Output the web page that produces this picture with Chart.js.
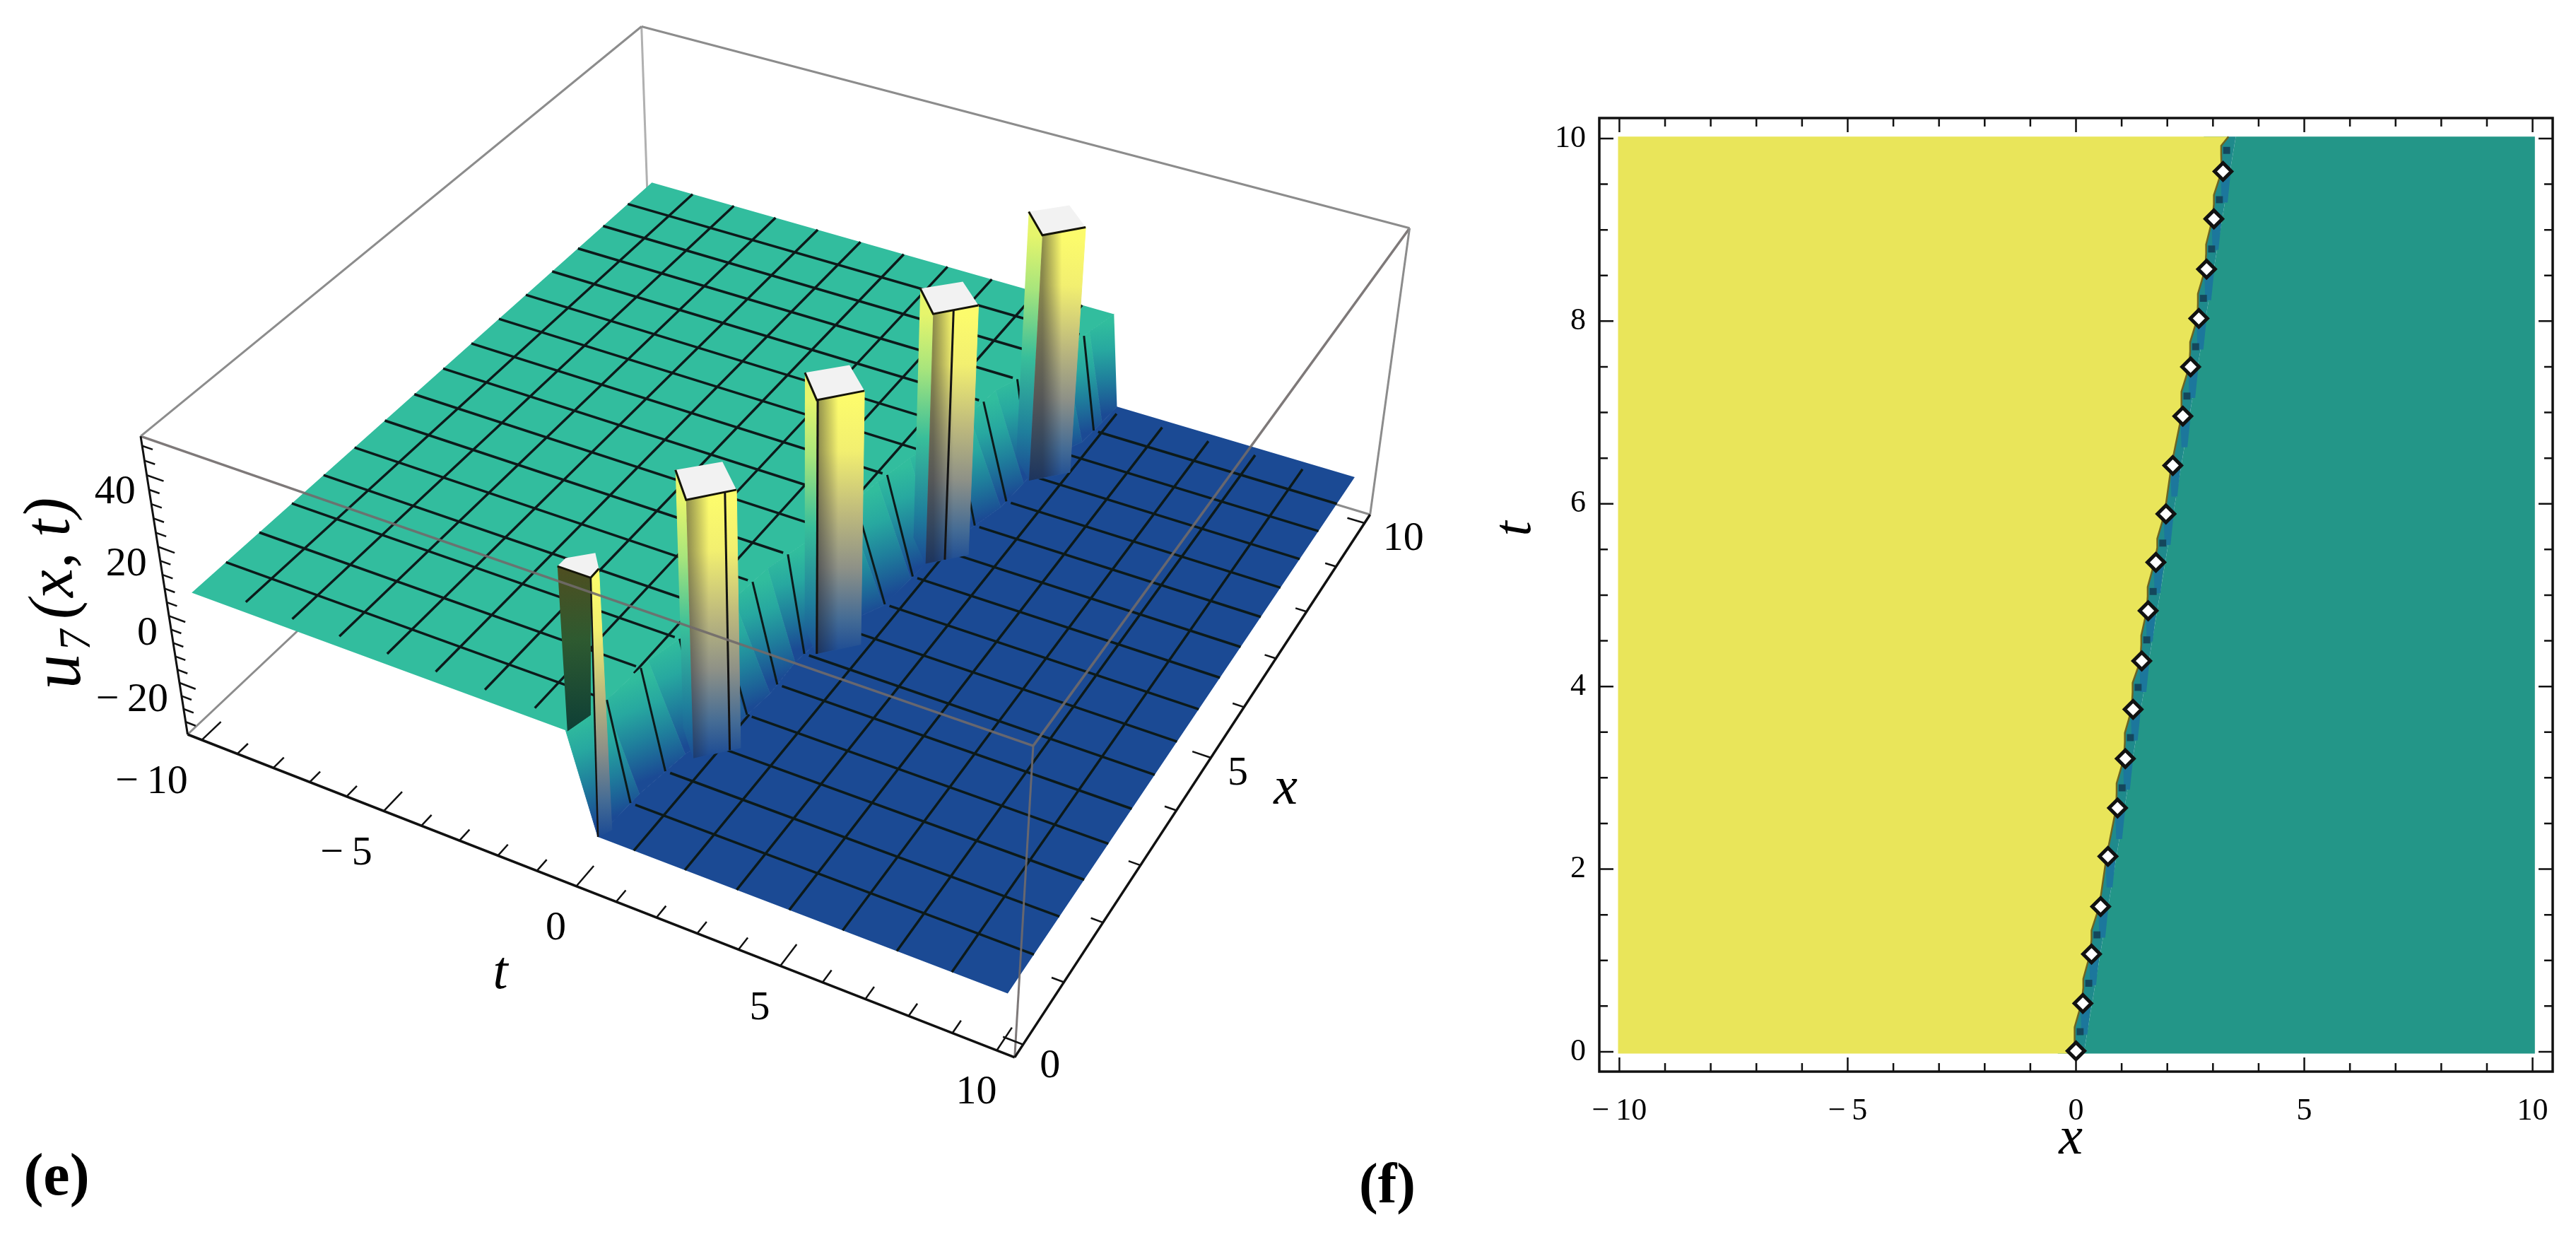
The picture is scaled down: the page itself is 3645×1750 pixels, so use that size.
<!DOCTYPE html>
<html lang="en">
<head>
  <meta charset="UTF-8" />
  <title>u7(x,t) surface and density plot</title>
  <script src="https://cdn.jsdelivr.net/npm/chart.js"></script>
  <style>
    body { margin: 0; background: #ffffff; overflow: hidden; }
    canvas { position: absolute; top: 0; }
    #surface { left: 0; }
    #density { left: 2100px; }
  </style>
</head>
<body>
  <canvas id="surface" width="2100" height="1750"></canvas>
  <canvas id="density" width="1545" height="1750"></canvas>

  <script>
    // ---- panel (e) values ----
    const xBox = [-0.2, 10.2];
    const tBox = [-10.4, 10.4];
    const uBox = [-35.9, 50.6];
    const tTicks = [-10, -5, 0, 5, 10];
    const xTicks3d = [0, 5, 10];
    const uTicks = [-20, 0, 20, 40];
    const meshT = [-8.75, -7.5, -6.25, -5, -3.75, -2.5, -1.25, 0, 1.25, 2.5, 3.75, 5, 6.25, 7.5, 8.75];
    const meshX = [0.625, 1.25, 1.875, 2.5, 3.125, 3.75, 4.375, 5, 5.625, 6.25, 6.875, 7.5, 8.125, 8.75, 9.375];
    const tealLevel = 5.5;
    const blueLevel = -22.7;
    // wall between the two levels, read along the jump
    const wallTopX = [10, 9.5, 8.95, 8.39, 7.78, 7.17, 6.56, 6.05, 5.45, 4.84, 4.13, 3.42, 2.76, 2.31, 1.39, 0.59, 0];
    const wallTopT = [3.37, 3.15, 2.98, 2.66, 2.22, 2.1, 1.93, 1.65, 1.42, 1.26, 1.08, 0.75, 0.62, 0.46, 0.06, -0.06, -0.3];
    const wallBotX = [10, 9.59, 9.08, 8.52, 7.94, 7.36, 6.78, 6.2, 5.58, 4.97, 4.31, 3.57, 2.95, 2.48, 1.6, 0.8, 0];
    const wallBotT = [3.63, 3.58, 3.49, 2.97, 2.94, 2.87, 2.59, 2.3, 2.21, 2.11, 1.46, 1.28, 1.31, 1.21, 0.66, 0.44, 0.36];
    // clipped peaks
    const peakX = [8.42, 6.32, 4.21, 1.98];
    const peakT = [3.01, 2.26, 1.56, 0.89];
    const peakMark = [null, 0.45, 0.02, 0.77];
    const firstPeakX = [0, 0.154, 0.367, 0.164, 0];
    const firstPeakT = [-0.26, -0.26, 0.18, 0.51, 0.52];

    // ---- panel (f) values ----
    const xTicks = [-10, -5, 0, 5, 10];
    const tTicks2d = [0, 2, 4, 6, 8, 10];
    const diamondX = [3.22, 3.02, 2.86, 2.69, 2.51, 2.34, 2.12, 1.97, 1.75, 1.58, 1.44, 1.25, 1.08, 0.91, 0.7, 0.54, 0.34, 0.15, 0];
    const diamondT = [9.64, 9.12, 8.57, 8.03, 7.5, 6.96, 6.42, 5.89, 5.36, 4.83, 4.28, 3.75, 3.21, 2.67, 2.14, 1.59, 1.07, 0.53, 0.01];
    const squareX = [3.3, 3.14, 2.97, 2.79, 2.62, 2.43, 1.9, 1.69, 1.55, 1.36, 1.19, 1.01, 0.46, 0.28, 0.09];
    const squareT = [9.87, 9.33, 8.79, 8.25, 7.72, 7.18, 5.57, 5.04, 4.51, 3.99, 3.44, 2.89, 1.28, 0.75, 0.22];
    const tealEdgeX = [0.17, 3.5];
    const tealEdgeT = [-0.02, 10.02];

    // camera for the box: origin corner, vanishing points and their weights
    const cam = {
      o: [265.5, 1039],
      x: [4102, -2575, 0.2061],
      t: [-8884, -2533, -0.1134],
      u: [1135, 6555, -0.07105]
    };

    function proj(x, t, u) {
      const a = (x - xBox[0]) / (xBox[1] - xBox[0]);
      const b = (t - tBox[0]) / (tBox[1] - tBox[0]);
      const c = (u - uBox[0]) / (uBox[1] - uBox[0]);
      const wa = a * cam.x[2], wb = b * cam.t[2], wc = c * cam.u[2];
      const w = 1 + wa + wb + wc;
      return {
        x: (cam.o[0] + wa * cam.x[0] + wb * cam.t[0] + wc * cam.u[0]) / w,
        y: (cam.o[1] + wa * cam.x[1] + wb * cam.t[1] + wc * cam.u[1]) / w
      };
    }

    function edgeAt(xs, ts, x) {
      for (let i = 0; i < xs.length - 1; i++) {
        if (x <= xs[i] && x >= xs[i + 1]) {
          return ts[i] + (ts[i + 1] - ts[i]) * (xs[i] - x) / (xs[i] - xs[i + 1]);
        }
      }
      return ts[ts.length - 1];
    }

    // last x (coming from x = 0) where the edge is still below t
    function crossAt(xs, ts, t) {
      for (let i = xs.length - 1; i > 0; i--) {
        if (t >= ts[i] && t < ts[i - 1]) {
          return xs[i] + (xs[i - 1] - xs[i]) * (t - ts[i]) / (ts[i - 1] - ts[i]);
        }
      }
      return t >= ts[0] ? 10 : 0;
    }

    const gradCtx = document.createElement('canvas').getContext('2d');
    function gradient(from, to, stops) {
      const g = gradCtx.createLinearGradient(from.x, from.y, to.x, to.y);
      stops.forEach(s => g.addColorStop(s[0], s[1]));
      return g;
    }

    const layers = [];
    function addLine(pts, color, width) {
      layers.push({ data: pts, showLine: true, fill: false, borderColor: color, borderWidth: width, pointRadius: 0 });
    }
    function addPoly(pts, color, seam) {
      layers.push({ data: pts, showLine: true, fill: 'shape', backgroundColor: color, borderColor: color, borderWidth: seam || 0, pointRadius: 0 });
    }

    const ink = '#0c1a1a';
    const boxGrey = '#8c8c8c';
    const frontGrey = 'rgba(112,106,106,0.9)';
    const [xLo, xHi] = xBox, [tLo, tHi] = tBox, [uLo, uHi] = uBox;

    // box edges behind the surface
    addLine([proj(xLo, tLo, uLo), proj(xHi, tLo, uLo)], boxGrey, 3);
    addLine([proj(xHi, tLo, uLo), proj(xHi, tHi, uLo)], boxGrey, 3);
    addLine([proj(xHi, tLo, uLo), proj(xHi, tLo, uHi)], '#b0b0b0', 3);

    // flat parts of the surface
    addPoly([proj(0, -10, tealLevel), proj(10, -10, tealLevel)]
      .concat(wallTopX.map((x, i) => proj(x, wallTopT[i], tealLevel))), '#32bd9e');
    addPoly([proj(10, 10, blueLevel), proj(0, 10, blueLevel)]
      .concat(wallBotX.map((x, i) => proj(x, wallBotT[i], blueLevel)).reverse()), '#1b4a94');

    // mesh on the flat parts
    meshX.forEach(x => {
      const top = edgeAt(wallTopX, wallTopT, x), bot = edgeAt(wallBotX, wallBotT, x);
      addLine([proj(x, -10, tealLevel), proj(x, top - 0.12, tealLevel)], ink, 3.5);
      addLine([proj(x, bot + 0.12, blueLevel), proj(x, 10, blueLevel)], ink, 3.5);
    });
    meshT.forEach(t => {
      if (t < wallTopT[0]) {
        const x0 = crossAt(wallTopX, wallTopT, t);
        addLine([proj(x0 + 0.15, t, tealLevel), proj(10, t, tealLevel)], ink, 3.5);
      }
      if (t > wallBotT[wallBotT.length - 1]) {
        const x1 = crossAt(wallBotX, wallBotT, t);
        addLine([proj(0, t, blueLevel), proj(Math.max(x1 - 0.15, 0), t, blueLevel)], ink, 3.5);
      }
    });

    // wall between the levels
    const wallStops = [[0, '#31bd9d'], [0.3, '#27a8a0'], [0.62, '#1f7f9c'], [1, '#1b4a94']];
    for (let i = 0; i < wallTopX.length - 1; i++) {
      const a = proj(wallTopX[i], wallTopT[i], tealLevel);
      const b = proj(wallTopX[i + 1], wallTopT[i + 1], tealLevel);
      const c = proj(wallBotX[i + 1], wallBotT[i + 1], blueLevel);
      const d = proj(wallBotX[i], wallBotT[i], blueLevel);
      const g = gradient({ x: (a.x + b.x) / 2, y: (a.y + b.y) / 2 }, { x: (c.x + d.x) / 2, y: (c.y + d.y) / 2 }, wallStops);
      addPoly([a, b, c, d], g, 1);
    }
    meshX.forEach(x => {
      const top = edgeAt(wallTopX, wallTopT, x), bot = edgeAt(wallBotX, wallBotT, x);
      addLine([proj(x, top, tealLevel), proj(x, bot, blueLevel)], ink, 3);
    });

    // peaks, far one first
    const rightStops = [[0, '#fcfb6c'], [0.2, '#f2ef70'], [0.45, '#bdb97d'], [0.66, '#8e9187'], [0.86, '#456c95'], [1, '#1b4a94']];
    const leftStops = [[0, '#e6f56c'], [0.22, '#a8e57c'], [0.5, '#38be9a'], [0.8, '#1f7f9c'], [1, '#1b4a94']];
    peakX.forEach((x, i) => {
      const t = peakT[i];
      const L = [x, t - 0.72], F = [x - 0.4, t], R = [x, t + 0.74], B = [x + 0.36, t];
      const top = p => proj(p[0], p[1], uHi), bot = p => proj(p[0], p[1], blueLevel);
      addPoly([top(L), top(F), bot(F), bot(L)], gradient(top(F), bot(F), leftStops), 1);
      addPoly([top(F), top(R), bot(R), bot(F)], gradient(top(F), bot(F), rightStops), 1);
      addPoly([top(F), top(R), bot(R), bot(F)], gradient({ x: top(F).x, y: 0 }, { x: top(R).x, y: 0 },
        [[0, 'rgba(30,30,40,0.5)'], [0.45, 'rgba(30,30,40,0)'], [1, 'rgba(30,30,40,0)']]));
      addPoly([top(L), top(B), top(R), top(F)], '#f2f2f2');
      addLine([top(L), top(F), top(R)], '#141408', 3);
      if (peakMark[i] !== null) {
        const s = peakMark[i], m = [F[0] + (R[0] - F[0]) * s, F[1] + (R[1] - F[1]) * s];
        addLine([top(m), bot(m)], '#141414', 3);
      }
    });

    // front peak, cut off by the edge of the domain
    const cap = firstPeakX.map((x, i) => proj(x, firstPeakT[i], uHi));
    const darkBaseL = proj(firstPeakX[0], firstPeakT[0], tealLevel);
    const darkBaseR = proj(0, 0.33, 12.5);
    addPoly([cap[0], cap[4], darkBaseR, darkBaseL], gradient(cap[0], darkBaseL,
      [[0, '#4f4e20'], [0.45, '#2e5a30'], [1, '#0e3f36']]), 1);
    const stripBaseL = proj(0, wallBotT[wallBotT.length - 1], blueLevel);
    const stripBaseR = proj(firstPeakX[3], firstPeakT[3], blueLevel);
    addPoly([cap[4], cap[3], stripBaseR, stripBaseL], gradient(cap[4], stripBaseL, rightStops), 1);
    addPoly(cap, '#f2f2f2');
    addLine([cap[0], cap[4], cap[3]], '#141408', 3);
    addLine([stripBaseL, cap[4]], '#141414', 2.5);

    // box edges in front of the surface
    addLine([proj(xLo, tLo, uHi), proj(xLo, tHi, uHi)], frontGrey, 3.5);
    addLine([proj(xLo, tHi, uHi), proj(xHi, tHi, uHi)], frontGrey, 3.5);
    addLine([proj(xHi, tHi, uHi), proj(xHi, tLo, uHi)], boxGrey, 3);
    addLine([proj(xHi, tLo, uHi), proj(xLo, tLo, uHi)], boxGrey, 3);
    addLine([proj(xLo, tHi, uHi), proj(xLo, tHi, uLo)], frontGrey, 3);
    addLine([proj(xHi, tHi, uHi), proj(xHi, tHi, uLo)], boxGrey, 3);

    // axes with ticks
    addLine([proj(xLo, tLo, uHi), proj(xLo, tLo, uLo)], '#111111', 3);
    addLine([proj(xLo, tLo, uLo), proj(xLo, tHi, uLo)], '#111111', 3.5);
    addLine([proj(xLo, tHi, uLo), proj(xHi, tHi, uLo)], '#111111', 3.5);
    for (let t = -10; t <= 10; t++) {
      addLine([proj(xLo, t, uLo), proj(t % 5 === 0 ? 0.16 : 0, t, uLo)], '#111111', 2.5);
    }
    for (let x = 0; x <= 10; x++) {
      addLine([proj(x, tHi, uLo), proj(x, x % 5 === 0 ? 9.95 : 10.12, uLo)], '#111111', 2.5);
    }
    for (let u = -32; u <= 48; u += 4) {
      addLine([proj(xLo, tLo, u), proj(xLo, u % 20 === 0 ? -9.95 : -10.12, u)], '#111111', 2.5);
    }

    const minus = v => v < 0 ? '\u2212\u2009' + Math.abs(v) : String(v);
    const serif = '"Liberation Serif", serif';
    const surfaceTexts = [];
    const tickFont = '58px ' + serif;
    tTicks.forEach(t => {
      const p = proj(xLo, t, uLo);
      surfaceTexts.push({ text: minus(t), x: p.x + (t === -10 ? -71 : t < 0 ? -53 : -29), y: p.y + 60, font: tickFont });
    });
    xTicks3d.forEach(x => {
      const p = proj(x, tHi, uLo);
      surfaceTexts.push({ text: String(x), x: p.x + (x === 10 ? 55 : 38), y: p.y + (x === 0 ? 31 : 23), font: tickFont });
    });
    uTicks.forEach(u => {
      const p = proj(xLo, tLo, u);
      surfaceTexts.push({ text: minus(u), x: p.x - 16, y: p.y + 25, font: tickFont, align: 'right' });
    });
    const labelFont = 'italic 76px ' + serif;
    surfaceTexts.push({ text: 't', x: 708, y: 1378, font: labelFont });
    surfaceTexts.push({ text: 'x', x: 1819, y: 1117, font: labelFont });
    surfaceTexts.push({ text: '(e)', x: 80, y: 1668, font: 'bold 84px ' + serif });
    surfaceTexts.push({ text: '(f)', x: 1963, y: 1680, font: 'bold 80px ' + serif });
    // u7(x, t) axis label, rotated
    surfaceTexts.push({ text: 'u', x: 86, y: 950, font: 'italic 100px ' + serif, rot: -1.63 });
    surfaceTexts.push({ text: '7', x: 110, y: 905, font: 'italic 62px ' + serif, rot: -1.63 });
    surfaceTexts.push({ text: '(x, t)', x: 76, y: 790, font: 'italic 92px ' + serif, rot: -1.63 });

    const textPlugin = {
      id: 'texts',
      afterDatasetsDraw(chart, args, opts) {
        const ctx = chart.ctx;
        opts.items.forEach(item => {
          ctx.save();
          ctx.translate(item.x, item.y);
          if (item.rot) ctx.rotate(item.rot);
          ctx.font = item.font;
          ctx.fillStyle = '#000000';
          ctx.textAlign = item.align || 'center';
          ctx.textBaseline = 'middle';
          ctx.fillText(item.text, 0, 0);
          ctx.restore();
        });
      }
    };

    // Chart.js paints the first dataset last, so hand the layers over reversed
    new Chart(document.getElementById('surface'), {
      type: 'scatter',
      data: { datasets: layers.slice().reverse() },
      plugins: [textPlugin],
      options: {
        responsive: false,
        animation: false,
        scales: {
          x: { display: false, min: 0, max: 2100 },
          y: { display: false, min: 0, max: 1750, reverse: true }
        },
        plugins: { legend: { display: false }, tooltip: { enabled: false }, texts: { items: surfaceTexts } }
      }
    });

    // ---- panel (f) ----
    const zipXY = (xs, ts) => xs.map((x, i) => ({ x: x, y: ts[i] }));
    const yellowEdge = diamondX.map((x, i) => ({ x: x - 0.03, y: diamondT[i] }));
    squareX.forEach((x, i) => {
      yellowEdge.push({ x: x - 0.12, y: squareT[i] + 0.05 }, { x: x - 0.12, y: squareT[i] - 0.05 });
    });
    yellowEdge.sort((a, b) => b.y - a.y);
    yellowEdge.unshift({ x: 3.34, y: 10.02 });
    yellowEdge.push({ x: 0, y: -0.02 });

    const tealEdge = zipXY(tealEdgeX, tealEdgeT);
    const tealShape = tealEdge.concat([{ x: 10.05, y: 10.02 }, { x: 10.05, y: -0.02 }]);
    const bandShape = tealEdge.concat([{ x: 2.8, y: 10.02 }, { x: -0.4, y: -0.02 }]);
    const yellowShape = [{ x: -10.03, y: -0.02 }, { x: -10.03, y: 10.02 }].concat(yellowEdge);

    const shape = (pts, color) => ({ data: pts, showLine: true, fill: 'shape', backgroundColor: color, borderWidth: 0, pointRadius: 0 });
    const streaks = diamondX.slice(0, 18).map((x, i) => shape([
      { x: x - 0.05, y: diamondT[i] },
      { x: x + 0.17, y: diamondT[i] },
      { x: x + 0.1, y: diamondT[i] - 0.34 },
      { x: x - 0.03, y: diamondT[i] - 0.34 }
    ], '#1c779c'));
    const densityLayers = [
      shape(tealShape, '#239688'),
      shape(bandShape, '#1f8a8c'),
      ...streaks,
      shape(yellowShape, '#e9e55a'),
      { data: yellowEdge, showLine: true, fill: false, borderColor: '#6d6522', borderWidth: 2.5, pointRadius: 0 },
      { data: zipXY(squareX, squareT), pointStyle: 'rect', pointRadius: 7, backgroundColor: '#14475c', borderWidth: 0 },
      { data: zipXY(diamondX, diamondT), pointStyle: 'rectRot', pointRadius: 12, backgroundColor: '#ffffff', borderColor: '#111111', borderWidth: 5 }
    ];

    const framePlugin = {
      id: 'frame',
      afterDatasetsDraw(chart) {
        const ctx = chart.ctx, area = chart.chartArea, sx = chart.scales.x, sy = chart.scales.y;
        ctx.save();
        ctx.strokeStyle = '#111111';
        ctx.lineWidth = 2.5;
        ctx.beginPath();
        for (let v = -10; v <= 10; v++) {
          const len = v % 5 === 0 ? 20 : 12, p = sx.getPixelForValue(v);
          ctx.moveTo(p, area.bottom); ctx.lineTo(p, area.bottom - len);
          ctx.moveTo(p, area.top); ctx.lineTo(p, area.top + len);
        }
        for (let v = 0; v <= 20; v++) {
          const len = v % 4 === 0 ? 20 : 12, p = sy.getPixelForValue(v / 2);
          ctx.moveTo(area.left, p); ctx.lineTo(area.left + len, p);
          ctx.moveTo(area.right, p); ctx.lineTo(area.right - len, p);
        }
        ctx.stroke();
        ctx.lineWidth = 3.5;
        ctx.strokeRect(area.left, area.top, area.right - area.left, area.bottom - area.top);
        ctx.restore();
      }
    };

    const densityTexts = [
      { text: 'x', x: 830, y: 1612, font: 'italic 76px ' + serif },
      { text: 't', x: 45, y: 748, font: 'italic 76px ' + serif, rot: -Math.PI / 2 }
    ];

    new Chart(document.getElementById('density'), {
      type: 'scatter',
      data: { datasets: densityLayers.slice().reverse() },
      plugins: [framePlugin, textPlugin],
      options: {
        responsive: false,
        animation: false,
        layout: { padding: { top: 167, right: 33 } },
        scales: {
          x: {
            min: -10.44, max: 10.44,
            grid: { display: false }, border: { display: false },
            afterBuildTicks: s => { s.ticks = xTicks.map(v => ({ value: v })); },
            afterFit: s => { s.height = 234; },
            ticks: { callback: minus, font: { family: 'Liberation Serif', size: 44 }, color: '#000000', padding: 22, maxRotation: 0, autoSkip: false }
          },
          y: {
            min: -0.217, max: 10.224,
            grid: { display: false }, border: { display: false },
            afterBuildTicks: s => { s.ticks = tTicks2d.map(v => ({ value: v })); },
            afterFit: s => { s.width = 163; },
            ticks: { font: { family: 'Liberation Serif', size: 44 }, color: '#000000', padding: 11, autoSkip: false }
          }
        },
        plugins: { legend: { display: false }, tooltip: { enabled: false }, texts: { items: densityTexts } }
      }
    });
  </script>
</body>
</html>
